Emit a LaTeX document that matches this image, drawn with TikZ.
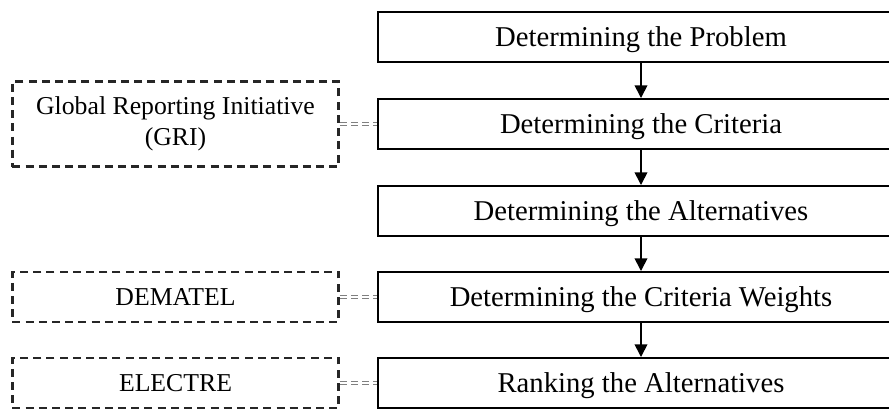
\documentclass[tikz,border=0pt]{standalone}
\usepackage{fontspec}
\setmainfont{Liberation Serif}
\usetikzlibrary{arrows.meta}

\begin{document}
\begin{tikzpicture}
		[x = 0.025cm, y = -0.025cm,
		 stage/.style = {draw, line width = 1.4pt, minimum width = 13.15cm, minimum height = 1.25cm,
			text depth = 0pt, font = \fontsize{20.4}{24}\selectfont},
		 method/.style = {draw = black!85, dash pattern = on 0.2cm off 0.13cm, line width = 1.5pt,
			minimum width = 8.15cm, minimum height = 1.25cm, align = center, font = \fontsize{18.3}{22}\selectfont},
		 flow/.style = {-{Triangle[width = 9pt, length = 9pt]}, line width = 1.2pt},
		 link/.style = {draw = black!50, double = white, double distance = 1.6pt, line width = 0.8pt,
			dash pattern = on 5pt off 3pt}]
			\useasboundingbox (0,0) rectangle (889,410);
			\clip (0,0) rectangle (889,410);
			% main steps
			\node [stage] (problem) at (641,37) {Determining the Problem};
			\node [stage] (criteria) at (641,124) {Determining the Criteria};
			\node [stage] (alternatives) at (641,211) {Determining the Alternatives};
			\node [stage] (weights) at (641,297) {Determining the Criteria Weights};
			\node [stage] (ranking) at (641,383) {Ranking the Alternatives};
			% methods
			\node [method, minimum height = 2.125cm] (gri) at (175.5,124) {Global Reporting Initiative\\(GRI)};
			\node [method] (dematel) at (175.5,297) {DEMATEL};
			\node [method] (electre) at (175.5,383) {ELECTRE};
			\draw [flow] (problem) -- (criteria);
			\draw [flow] (criteria) -- (alternatives);
			\draw [flow] (alternatives) -- (weights);
			\draw [flow] (weights) -- (ranking);
			\draw [link] (gri) -- (criteria);
			\draw [link] (dematel) -- (weights);
			\draw [link] (electre) -- (ranking);
	\end{tikzpicture}
\end{document}
